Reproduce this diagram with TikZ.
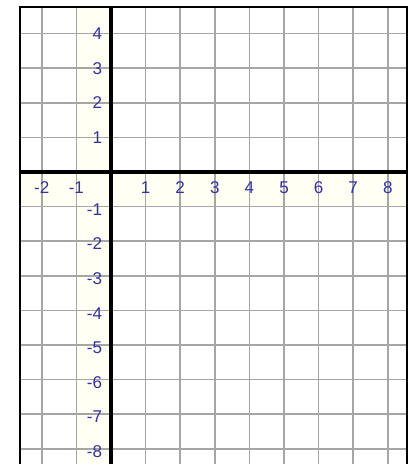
\documentclass[tikz,border=0pt]{standalone}
\usepackage{fontspec}
\setmainfont{Liberation Sans}
\usepackage{tikz}
\usetikzlibrary{positioning}

\definecolor{labelblue}{RGB}{50,50,160}
\definecolor{bandyellow}{RGB}{255,255,243}

\tikzset{
    gridline/.style={draw=gray!70, line width=1.4pt},
    axisline/.style={draw=black, line width=3pt},
    frameline/.style={draw=black, line width=1.5pt},
    xlabel/.style={text=labelblue, inner sep=0pt, font=\fontsize{14}{14}\selectfont},
    ylabel/.style={text=labelblue, inner sep=0pt, anchor=east, font=\fontsize{14}{14}\selectfont}
}

\begin{document}
\begin{tikzpicture}[line cap=butt]
            \useasboundingbox (-3.208,-8.439) rectangle (8.815,4.971);
            \fill[white] (-3.208,-8.439) rectangle (8.815,4.971);

            \coordinate (TL) at (-2.63,4.77);
            \coordinate (TR) at (8.555,4.77);
            \coordinate (BL) at (-2.63,-8.439);
            \coordinate (BR) at (8.555,-8.439);

            % pale band along the axes
            \fill[bandyellow] (-1,-8.439) rectangle (0,4.77);
            \fill[bandyellow] (-2.63,-1) rectangle (8.555,0);

            \draw[gridline] (BL) grid (TR);

            \draw[axisline] (-2.63,0) -- (8.555,0);
            \draw[axisline] (0,4.77) -- (0,-8.439);
            \draw[frameline] (BL) -- (TL) -- (TR) -- (BR);

            \node[xlabel] (x-2) at (-2,-0.45) {-2};
            \node[xlabel] (x-1) at (-1,-0.45) {-1};
            \node[xlabel] (x1) at (1,-0.45) {1};
            \node[xlabel] (x2) at (2,-0.45) {2};
            \node[xlabel] (x3) at (3,-0.45) {3};
            \node[xlabel] (x4) at (4,-0.45) {4};
            \node[xlabel] (x5) at (5,-0.45) {5};
            \node[xlabel] (x6) at (6,-0.45) {6};
            \node[xlabel] (x7) at (7,-0.45) {7};
            \node[xlabel] (x8) at (8,-0.45) {8};

            \node[ylabel] (y4) at (-0.25,4.0) {4};
            \node[ylabel] (y3) at (-0.25,3.0) {3};
            \node[ylabel] (y2) at (-0.25,2.0) {2};
            \node[ylabel] (y1) at (-0.25,1.0) {1};
            \node[ylabel] (y-1) at (-0.25,-1.08) {-1};
            \node[ylabel] (y-2) at (-0.25,-2.08) {-2};
            \node[ylabel] (y-3) at (-0.25,-3.08) {-3};
            \node[ylabel] (y-4) at (-0.25,-4.08) {-4};
            \node[ylabel] (y-5) at (-0.25,-5.08) {-5};
            \node[ylabel] (y-6) at (-0.25,-6.08) {-6};
            \node[ylabel] (y-7) at (-0.25,-7.08) {-7};
            \node[ylabel] (y-8) at (-0.25,-8.08) {-8};
\end{tikzpicture}
\end{document}
